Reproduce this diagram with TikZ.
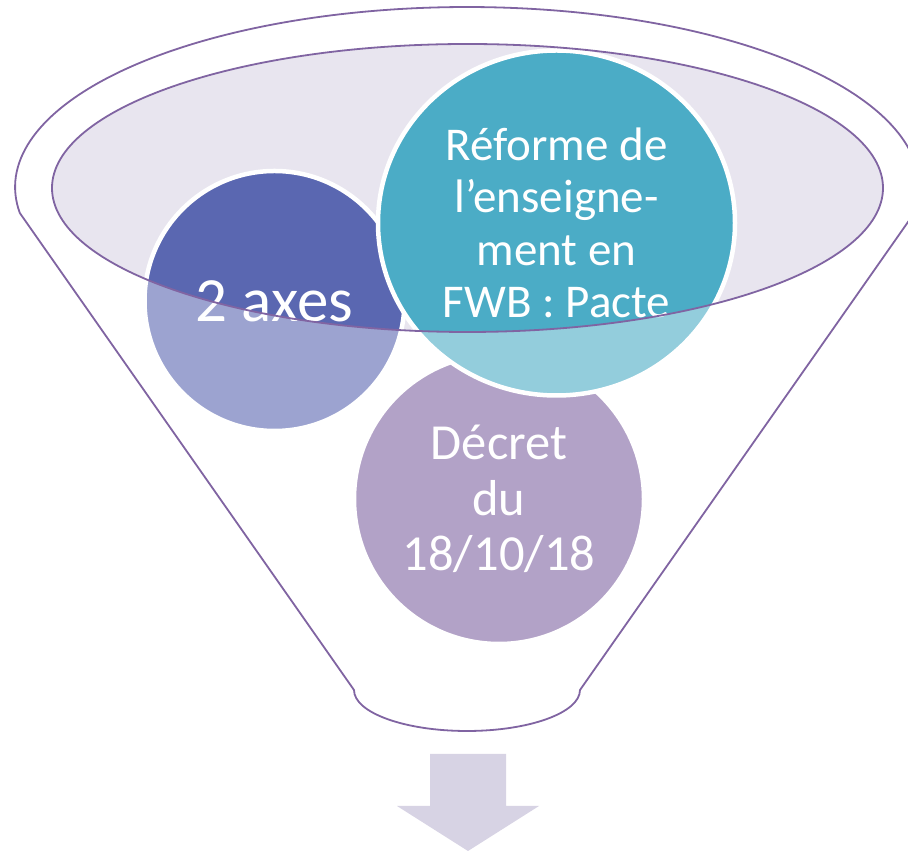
\documentclass[tikz,border=0pt]{standalone}
\usepackage{fontspec}
\setmainfont{Carlito}
\usetikzlibrary{shapes.geometric}
\definecolor{funnelline}{HTML}{8064A2}
\definecolor{ellfill}{HTML}{E8E5EF}
\definecolor{bluebase}{HTML}{5A67B1}
\definecolor{tealbase}{HTML}{4BACC6}
\definecolor{purplebase}{HTML}{8064A2}
\definecolor{arrowfill}{HTML}{D7D3E4}
\tikzset{
  bubble/.style={draw=white, line width=4.5pt, text=white, align=center, inner sep=0pt},
  outline/.style={draw=funnelline, line width=1.8pt},
}
\begin{document}
\begin{tikzpicture}[x=1pt,y=1pt]
\useasboundingbox (0,0) rectangle (908,851);
% inner ellipse fill
\fill[ellfill] (467.5,663) ellipse [x radius=415.5, y radius=144];
% circles
\node[bubble, circle, fill=purplebase, minimum size=290pt, font=\fontsize{50.5}{55.7}\selectfont] (decret) at (499,352) {Décret\\du\\18/10/18};
\node[bubble, circle, fill=bluebase, minimum size=260pt, font=\fontsize{63}{63}\selectfont] (axes) at (274.5,550) {2 axes};
\node[bubble, ellipse, fill=tealbase, minimum width=357pt, minimum height=345pt, font=\fontsize{47}{52.3}\selectfont] (reforme) at (556.5,628) {Réforme de\\l’enseigne-\\ment en\\FWB : Pacte};
% white veil outside the inner ellipse
\fill[white, opacity=0.4, even odd rule] (-10,-10) rectangle (920,860) (467.5,663) ellipse [x radius=415.5, y radius=144];
% inner ellipse outline
\draw[outline] (467.5,663) ellipse [x radius=415.5, y radius=144];
% funnel outline
\coordinate (rtop) at (914.3,638);
\coordinate (lbot) at (354,161);
\draw[outline, line join=round] (rtop) arc[start angle=-8.3, end angle=188.3, x radius=452, y radius=180] -- (lbot) arc[start angle=180, end angle=360, x radius=113, y radius=41] -- cycle;
% arrow
\fill[arrowfill] (430,97) -- (506,97) -- (506,45) -- (539,45) -- (468,0) -- (397,45) -- (430,45) -- cycle;
\end{tikzpicture}
\end{document}
